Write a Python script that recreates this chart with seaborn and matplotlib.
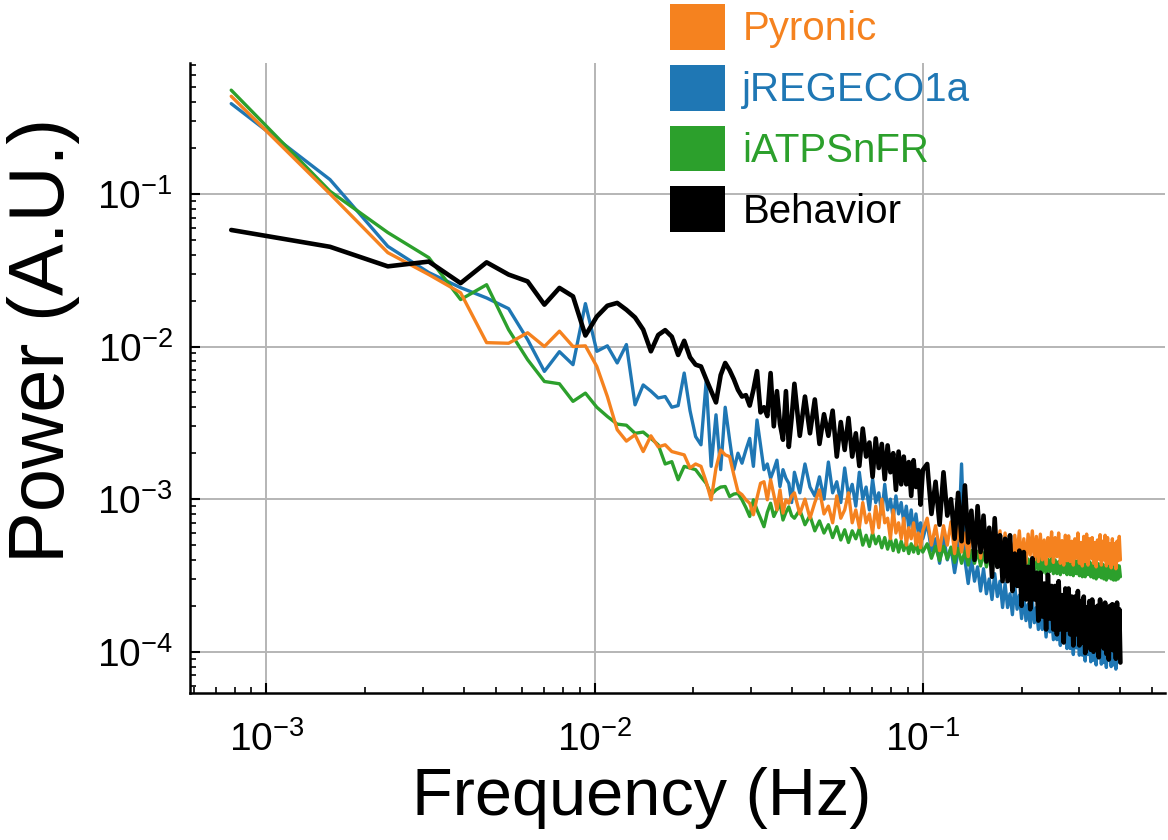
import numpy as np
import pandas as pd
import matplotlib
matplotlib.use("Agg")
import matplotlib.pyplot as plt
import seaborn as sns
from matplotlib.patches import Patch
from matplotlib.ticker import LogLocator, FuncFormatter, NullFormatter

# ---------------- data ----------------
DF_HZ = 0.4 / 512  # frequency bin width
bins_lo = list(range(1, 52))
bins_mid = list(range(52, 129, 2))
bins_hi = list(range(132, 513, 4))

series_names = ["Pyronic", "jREGECO1a", "iATPSnFR", "Behavior"]
series_colors = ["#f5821f", "#1f77b4", "#2ca02c", "#000000"]

behavior_lo = [0.058, 0.045, 0.0335, 0.036, 0.026, 0.0356, 0.0296, 0.0267, 0.0188, 0.0242,
               0.0213, 0.0118, 0.0157, 0.0185, 0.0193, 0.0174, 0.0155, 0.0129, 0.0093, 0.0119,
               0.0128, 0.0116, 0.0088, 0.0109, 0.0085, 0.0076, 0.0074, 0.0061, 0.0051, 0.0043,
               0.0065, 0.0078, 0.0070, 0.0061, 0.0052, 0.0047, 0.0048, 0.0041, 0.0052, 0.0069,
               0.0037, 0.0040, 0.0035, 0.0067, 0.0030, 0.0051, 0.0031, 0.00245, 0.0051, 0.0022,
               0.0034]
behavior_mid = [5.7e-3, 2.6e-3, 4.7e-3, 2.7e-3, 4.5e-3, 2.3e-3, 3.6e-3, 2.6e-3, 3.8e-3, 1.9e-3,
                3.2e-3, 2.1e-3, 3.4e-3, 1.9e-3, 2.7e-3, 1.65e-3, 2.9e-3, 1.9e-3, 2.35e-3, 1.4e-3,
                2.5e-3, 1.6e-3, 2.3e-3, 1.35e-3, 2.25e-3, 1.5e-3, 2.0e-3, 1.15e-3, 2.05e-3, 1.25e-3,
                1.9e-3, 1.25e-3, 1.75e-3, 1.05e-3, 1.8e-3, 1.2e-3, 1.55e-3, 0.92e-3, 1.55e-3]
behavior_hi = [1.7e-3, 0.8e-3, 1.3e-3, 0.68e-3, 1.5e-3, 0.78e-3, 1.0e-3, 0.55e-3,
               1.1e-3, 0.53e-3, 1.23e-3, 0.52e-3, 0.84e-3, 0.4e-3, 0.9e-3, 0.45e-3,
               0.78e-3, 0.39e-3, 0.65e-3, 0.31e-3, 0.75e-3, 0.36e-3, 0.58e-3, 0.29e-3,
               0.55e-3, 0.29e-3, 0.58e-3, 0.25e-3, 0.44e-3, 0.27e-3, 0.46e-3, 0.2e-3,
               0.45e-3, 0.22e-3, 0.36e-3, 0.19e-3, 0.41e-3, 0.22e-3, 0.33e-3, 0.16e-3,
               0.33e-3, 0.17e-3, 0.28e-3, 0.14e-3, 0.32e-3, 0.165e-3, 0.27e-3, 0.14e-3,
               0.27e-3, 0.13e-3, 0.29e-3, 0.14e-3, 0.235e-3, 0.115e-3, 0.26e-3, 0.14e-3,
               0.26e-3, 0.13e-3, 0.23e-3, 0.11e-3, 0.23e-3, 0.13e-3, 0.25e-3, 0.11e-3,
               0.215e-3, 0.115e-3, 0.23e-3, 0.098e-3, 0.195e-3, 0.12e-3, 0.215e-3, 0.103e-3,
               0.22e-3, 0.1e-3, 0.195e-3, 0.108e-3, 0.2e-3, 0.092e-3, 0.22e-3, 0.115e-3,
               0.195e-3, 0.105e-3, 0.21e-3, 0.097e-3, 0.178e-3, 0.089e-3, 0.2e-3, 0.103e-3,
               0.205e-3, 0.102e-3, 0.19e-3, 0.09e-3, 0.21e-3, 0.095e-3, 0.19e-3, 0.085e-3]

jregeco_lo = [0.39, 0.124, 0.0453, 0.0305, 0.0243, 0.0208, 0.0177, 0.0111, 0.00687, 0.00925,
              0.0076, 0.0191, 0.0093, 0.0101, 0.0078, 0.0103, 0.00415, 0.0056, 0.0051, 0.0046,
              0.0047, 0.0040, 0.0041, 0.0067, 0.0038, 0.00257, 0.00227, 0.0059, 0.00164, 0.00357,
              0.00156, 0.0040, 0.00245, 0.00156, 0.0020, 0.00172, 0.0021, 0.0025, 0.00164, 0.0033,
              0.00227, 0.00156, 0.0017, 0.00137, 0.00156, 0.0018, 0.00121, 0.00156, 0.00137, 0.00127,
              0.00095]
jregeco_mid = [1.5e-3, 1.1e-3, 1.7e-3, 1.2e-3, 1.05e-3, 1.4e-3, 1.0e-3, 1.75e-3, 1.1e-3, 1.3e-3,
               0.95e-3, 1.6e-3, 1.05e-3, 1.25e-3, 0.9e-3, 1.5e-3, 1.0e-3, 1.2e-3, 0.85e-3, 1.35e-3,
               0.95e-3, 1.1e-3, 0.8e-3, 1.25e-3, 0.85e-3, 1.0e-3, 0.75e-3, 1.05e-3, 0.8e-3, 0.95e-3,
               0.7e-3, 0.9e-3, 0.65e-3, 0.85e-3, 0.6e-3, 0.8e-3, 0.6e-3, 0.7e-3, 0.55e-3]
jregeco_hi = [7.0e-4, 4.6e-4, 5.5e-4, 3.8e-4, 5.75e-4, 4.0e-4, 4.8e-4, 3.3e-4,
              4.6e-4, 1.7e-3, 4.0e-4, 2.8e-4, 4.1e-4, 2.9e-4, 3.6e-4, 2.5e-4,
              3.5e-4, 2.4e-4, 3.0e-4, 2.2e-4, 3.25e-4, 2.3e-4, 2.9e-4, 1.95e-4,
              2.8e-4, 1.95e-4, 2.4e-4, 1.75e-4, 2.7e-4, 1.9e-4, 2.35e-4, 1.65e-4,
              2.35e-4, 1.6e-4, 2.05e-4, 1.45e-4, 2.2e-4, 1.55e-4, 1.95e-4, 1.4e-4,
              2.0e-4, 1.4e-4, 1.75e-4, 1.25e-4, 1.9e-4, 1.35e-4, 1.7e-4, 1.2e-4,
              1.7e-4, 1.2e-4, 1.5e-4, 1.1e-4, 1.68e-4, 1.2e-4, 1.5e-4, 1.05e-4,
              1.5e-4, 1.05e-4, 1.35e-4, 0.96e-4, 1.5e-4, 1.06e-4, 1.35e-4, 0.95e-4,
              1.37e-4, 0.95e-4, 1.2e-4, 0.87e-4, 1.35e-4, 0.96e-4, 1.22e-4, 0.86e-4,
              1.26e-4, 0.88e-4, 1.13e-4, 0.82e-4, 1.28e-4, 0.92e-4, 1.16e-4, 0.83e-4,
              1.2e-4, 0.85e-4, 1.09e-4, 0.79e-4, 1.23e-4, 0.88e-4, 1.12e-4, 0.8e-4,
              1.16e-4, 0.82e-4, 1.06e-4, 0.77e-4, 1.19e-4, 0.86e-4, 1.09e-4, 0.85e-4]

pyronic_lo = [0.436, 0.1, 0.0412, 0.0296, 0.0225, 0.0106, 0.0105, 0.0123, 0.0100, 0.0126,
              0.0100, 0.0101, 0.0074, 0.0047, 0.00285, 0.0024, 0.00264, 0.00205, 0.0026, 0.0022,
              0.00227, 0.00205, 0.0020, 0.00195, 0.0016, 0.0017, 0.00164, 0.0013, 0.00099, 0.0016,
              0.0021, 0.00195, 0.0019, 0.00144, 0.00112, 0.00107, 0.00099, 0.00094, 0.00079, 0.00102,
              0.00127, 0.0013, 0.00099, 0.00134, 0.00107, 0.00085, 0.00115, 0.00081, 0.00099, 0.00094,
              0.00105]
pyronic_mid = [1.1e-3, 0.8e-3, 1.0e-3, 0.75e-3, 0.95e-3, 1.15e-3, 0.8e-3, 0.9e-3, 0.7e-3, 1.05e-3,
               0.75e-3, 0.85e-3, 1.1e-3, 0.7e-3, 0.85e-3, 0.65e-3, 0.95e-3, 0.7e-3, 0.8e-3, 0.6e-3,
               0.9e-3, 0.65e-3, 1.0e-3, 0.7e-3, 0.75e-3, 0.55e-3, 0.85e-3, 0.6e-3, 0.7e-3, 0.55e-3,
               0.75e-3, 0.5e-3, 0.65e-3, 0.55e-3, 0.7e-3, 0.5e-3, 0.6e-3, 0.48e-3, 0.62e-3]
pyronic_hi = [7.5e-4, 5.0e-4, 6.7e-4, 4.6e-4, 6.7e-4, 5.0e-4, 7.1e-4, 4.4e-4,
              6.7e-4, 4.5e-4, 6.0e-4, 4.2e-4, 6.2e-4, 4.6e-4, 6.6e-4, 4.1e-4,
              5.9e-4, 4.4e-4, 6.3e-4, 3.9e-4, 5.7e-4, 4.2e-4, 6.2e-4, 4.0e-4,
              6.0e-4, 4.1e-4, 5.5e-4, 3.85e-4, 5.8e-4, 4.3e-4, 6.2e-4, 3.9e-4,
              5.5e-4, 3.8e-4, 5.9e-4, 4.3e-4, 6.2e-4, 4.0e-4, 5.7e-4, 3.9e-4,
              5.9e-4, 4.0e-4, 5.4e-4, 3.75e-4, 5.6e-4, 4.2e-4, 6.1e-4, 3.85e-4,
              5.6e-4, 4.2e-4, 6.0e-4, 3.8e-4, 5.35e-4, 3.7e-4, 5.8e-4, 3.95e-4,
              5.75e-4, 3.9e-4, 5.3e-4, 3.7e-4, 5.5e-4, 4.1e-4, 6.0e-4, 3.8e-4,
              5.2e-4, 3.65e-4, 5.7e-4, 3.9e-4, 5.9e-4, 3.7e-4, 5.5e-4, 4.1e-4,
              5.6e-4, 3.8e-4, 5.2e-4, 3.6e-4, 5.4e-4, 4.05e-4, 5.85e-4, 3.7e-4,
              5.3e-4, 4.0e-4, 5.8e-4, 3.65e-4, 5.6e-4, 3.8e-4, 5.1e-4, 3.55e-4,
              5.5e-4, 3.75e-4, 5.1e-4, 3.5e-4, 5.3e-4, 3.95e-4, 5.7e-4, 4.0e-4]

iatp_lo = [0.478, 0.104, 0.0558, 0.0382, 0.0203, 0.0254, 0.0129, 0.0082, 0.0059, 0.0057,
           0.00437, 0.00495, 0.0040, 0.00348, 0.0031, 0.00305, 0.0027, 0.00275, 0.0025, 0.00227,
           0.0017, 0.00176, 0.00134, 0.00164, 0.0016, 0.00156, 0.0014, 0.00127, 0.00107, 0.00115,
           0.0012, 0.00121, 0.00104, 0.00108, 0.00109, 0.00099, 0.00088, 0.00077, 0.00099, 0.00085,
           0.00075, 0.00066, 0.00082, 0.00094, 0.00077, 0.00085, 0.00094, 0.00073, 0.00082, 0.00089,
           0.00078]
iatp_mid = [7.5e-4, 8.5e-4, 6.8e-4, 7.8e-4, 6.2e-4, 7.2e-4, 6.0e-4, 6.8e-4, 5.6e-4, 6.6e-4,
            5.4e-4, 6.3e-4, 5.2e-4, 6.2e-4, 5.5e-4, 6.4e-4, 5.0e-4, 5.8e-4, 4.9e-4, 6.0e-4,
            5.1e-4, 5.7e-4, 4.8e-4, 5.6e-4, 4.7e-4, 5.5e-4, 4.6e-4, 5.4e-4, 4.5e-4, 5.3e-4,
            4.6e-4, 5.2e-4, 4.4e-4, 5.1e-4, 4.5e-4, 5.2e-4, 4.4e-4, 5.0e-4, 4.5e-4]
iatp_hi = [5.1e-4, 4.1e-4, 4.9e-4, 3.95e-4, 4.9e-4, 4.05e-4, 4.85e-4, 3.85e-4,
           4.75e-4, 3.8e-4, 4.55e-4, 3.7e-4, 4.6e-4, 3.8e-4, 4.55e-4, 3.65e-4,
           4.45e-4, 3.6e-4, 4.3e-4, 3.5e-4, 4.35e-4, 3.6e-4, 4.4e-4, 3.45e-4,
           4.25e-4, 3.45e-4, 4.15e-4, 3.35e-4, 4.2e-4, 3.5e-4, 4.25e-4, 3.4e-4,
           4.2e-4, 3.4e-4, 4.05e-4, 3.3e-4, 4.1e-4, 3.45e-4, 4.15e-4, 3.3e-4,
           4.1e-4, 3.3e-4, 3.95e-4, 3.25e-4, 4.05e-4, 3.35e-4, 4.1e-4, 3.25e-4,
           4.0e-4, 3.25e-4, 3.9e-4, 3.2e-4, 4.0e-4, 3.3e-4, 4.05e-4, 3.2e-4,
           3.95e-4, 3.2e-4, 3.85e-4, 3.15e-4, 3.95e-4, 3.25e-4, 3.95e-4, 3.15e-4,
           3.9e-4, 3.1e-4, 3.8e-4, 3.1e-4, 3.85e-4, 3.2e-4, 3.9e-4, 3.1e-4,
           3.8e-4, 3.05e-4, 3.7e-4, 3.0e-4, 3.8e-4, 3.1e-4, 3.75e-4, 3.05e-4,
           3.75e-4, 3.0e-4, 3.65e-4, 2.95e-4, 3.75e-4, 3.05e-4, 3.7e-4, 3.0e-4,
           3.7e-4, 2.95e-4, 3.6e-4, 2.95e-4, 3.7e-4, 3.0e-4, 3.65e-4, 3.1e-4]

# ---------------- build table ----------------
bins = bins_lo + bins_mid + bins_hi
freq = np.array(bins, dtype=float) * DF_HZ
values = {
    "Pyronic": pyronic_lo + pyronic_mid + pyronic_hi,
    "jREGECO1a": jregeco_lo + jregeco_mid + jregeco_hi,
    "iATPSnFR": iatp_lo + iatp_mid + iatp_hi,
    "Behavior": behavior_lo + behavior_mid + behavior_hi,
}
frames = []
for name in series_names:
    frames.append(pd.DataFrame({"freq": freq, "power": values[name], "series": name}))
df = pd.concat(frames, ignore_index=True)

# ---------------- style ----------------
sns.set_theme(style="ticks")
plt.rcParams["font.family"] = ["Liberation Sans", "DejaVu Sans"]
plt.rcParams["mathtext.fontset"] = "custom"
plt.rcParams["mathtext.rm"] = "Liberation Sans"
plt.rcParams["mathtext.default"] = "regular"
plt.rcParams["axes.unicode_minus"] = False
plt.rcParams["text.color"] = "black"
plt.rcParams["axes.labelcolor"] = "black"
plt.rcParams["xtick.color"] = "black"
plt.rcParams["ytick.color"] = "black"

fig = plt.figure(figsize=(11.68, 8.40), dpi=100)
ax = fig.add_axes([189.5 / 1168, 1 - 693 / 840, (1165 - 189.5) / 1168, (693 - 63) / 840])
ax.set_xscale("log")
ax.set_yscale("log")

color_map = dict(zip(series_names, series_colors))
draw_order = ["jREGECO1a", "iATPSnFR", "Pyronic", "Behavior"]
for name in draw_order:
    sub = df[df["series"] == name]
    sns.lineplot(data=sub, x="freq", y="power", color=color_map[name],
                 linewidth=3.3 if name == "Behavior" else 2.4,
                 estimator=None, sort=False, legend=False, ax=ax)

ax.set_xlim(5.83e-4, 0.547)
ax.set_ylim(5.37e-5, 0.72)

fmt = FuncFormatter(lambda v, p: r"$\mathregular{10^{%d}}$" % int(round(np.log10(v))))
ax.xaxis.set_major_locator(LogLocator(base=10))
ax.yaxis.set_major_locator(LogLocator(base=10))
ax.xaxis.set_minor_locator(LogLocator(base=10, subs=np.arange(2, 10)))
ax.yaxis.set_minor_locator(LogLocator(base=10, subs=np.arange(2, 10)))
ax.xaxis.set_major_formatter(fmt)
ax.yaxis.set_major_formatter(fmt)
ax.xaxis.set_minor_formatter(NullFormatter())
ax.yaxis.set_minor_formatter(NullFormatter())

ax.grid(True, which="major", color="#b5b5b5", linewidth=1.4)
ax.grid(False, which="minor")
for s in ["top", "right"]:
    ax.spines[s].set_visible(False)
for s in ["left", "bottom"]:
    ax.spines[s].set_linewidth(1.8)
    ax.spines[s].set_color("black")

ax.tick_params(which="major", direction="in", length=7, width=1.5, colors="black",
               labelcolor="black", labelsize=28)
ax.tick_params(which="minor", direction="in", length=4, width=1.2, colors="black")
ax.tick_params(axis="y", which="major", pad=12)
ax.tick_params(axis="x", which="major", pad=20)

ax.set_xlabel("Frequency (Hz)", fontsize=48, color="black")
ax.set_ylabel("Power (A.U.)", fontsize=56, color="black")
ax.xaxis.set_label_coords(0.464, -0.118)
ax.yaxis.set_label_coords(-0.112, 0.56)

handles = [Patch(facecolor=c, edgecolor="none") for c in series_colors]
leg = fig.legend(handles, series_names, loc="upper left",
                 bbox_to_anchor=(670 / 1168, 1 - 4 / 840), frameon=False,
                 fontsize=29, handlelength=1.375, handleheight=1.375,
                 handletextpad=0.42, labelspacing=0.37, borderpad=0, borderaxespad=0)
for t, c in zip(leg.get_texts(), series_colors):
    t.set_color(c)

fig.savefig("out.png", dpi=100)
